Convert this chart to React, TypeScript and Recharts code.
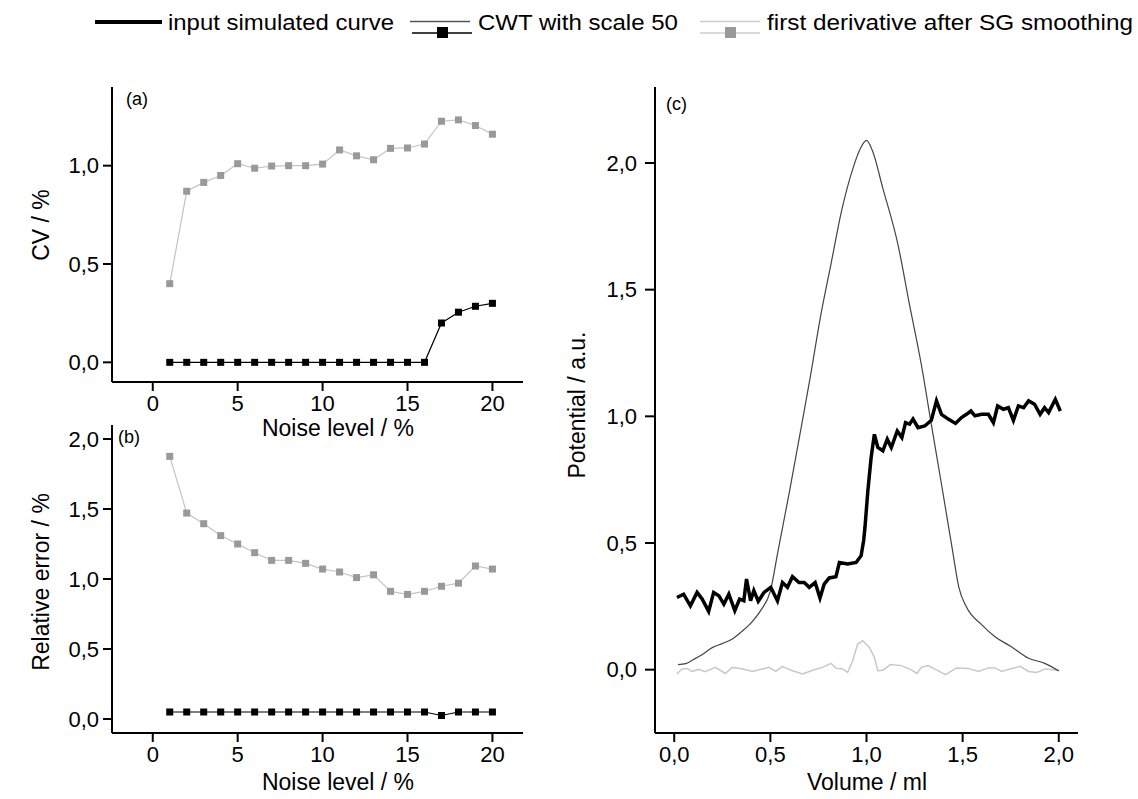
import { CartesianGrid, Line, LineChart, XAxis, YAxis } from "recharts";

// noise level study, panels (a) and (b)
const noiseLevels = [1, 2, 3, 4, 5, 6, 7, 8, 9, 10, 11, 12, 13, 14, 15, 16, 17, 18, 19, 20];
const cvCwt = [0, 0, 0, 0, 0, 0, 0, 0, 0, 0, 0, 0, 0, 0, 0, 0, 0.2, 0.255, 0.285, 0.3];
const cvSg = [0.4, 0.87, 0.915, 0.95, 1.01, 0.987, 0.998, 1.0, 1.0, 1.008, 1.08, 1.05, 1.03, 1.088, 1.09, 1.11, 1.226, 1.233, 1.204, 1.16];
const errCwt = [0.05, 0.05, 0.05, 0.05, 0.05, 0.05, 0.05, 0.05, 0.05, 0.05, 0.05, 0.05, 0.05, 0.05, 0.05, 0.05, 0.025, 0.05, 0.05, 0.05];
const errSg = [1.876, 1.471, 1.395, 1.31, 1.25, 1.188, 1.133, 1.133, 1.112, 1.071, 1.05, 1.01, 1.03, 0.912, 0.89, 0.912, 0.948, 0.97, 1.093, 1.071];

// panel (c): [volume ml, potential a.u.]
const inputCurve: [number, number][] = [
  [0.014, 0.285], [0.049, 0.298], [0.084, 0.252], [0.119, 0.305], [0.145, 0.279], [0.179, 0.23],
  [0.205, 0.305], [0.232, 0.292], [0.258, 0.259], [0.284, 0.298], [0.315, 0.233], [0.34, 0.279],
  [0.362, 0.272], [0.376, 0.358], [0.397, 0.272], [0.414, 0.312], [0.437, 0.27], [0.467, 0.305],
  [0.502, 0.325], [0.537, 0.272], [0.563, 0.344], [0.589, 0.325], [0.615, 0.367], [0.649, 0.344],
  [0.676, 0.344], [0.702, 0.325], [0.733, 0.344], [0.758, 0.283], [0.78, 0.338], [0.806, 0.362],
  [0.841, 0.367], [0.859, 0.423], [0.902, 0.417], [0.946, 0.423], [0.972, 0.45], [0.985, 0.509],
  [0.992, 0.561], [1.007, 0.706], [1.024, 0.837], [1.041, 0.929], [1.059, 0.877], [1.085, 0.864],
  [1.108, 0.91], [1.129, 0.877], [1.16, 0.942], [1.184, 0.916], [1.203, 0.975], [1.224, 0.969],
  [1.242, 0.989], [1.268, 0.955], [1.303, 0.962], [1.337, 0.984], [1.364, 1.061], [1.39, 1.008],
  [1.425, 0.989], [1.463, 0.972], [1.494, 0.995], [1.52, 1.008], [1.543, 1.021], [1.564, 1.002],
  [1.599, 1.008], [1.634, 1.008], [1.66, 0.975], [1.682, 1.041], [1.712, 1.028], [1.738, 1.034],
  [1.764, 0.984], [1.79, 1.041], [1.817, 1.034], [1.843, 1.061], [1.874, 1.048], [1.903, 1.008],
  [1.926, 1.034], [1.947, 1.015], [1.982, 1.067], [2.008, 1.021],
];
const cwtCurve: [number, number][] = [
  [0.02, 0.02], [0.06, 0.024], [0.1, 0.04], [0.14, 0.057], [0.2, 0.088], [0.25, 0.103], [0.3, 0.12],
  [0.35, 0.15], [0.4, 0.185], [0.45, 0.234], [0.5, 0.31], [0.54, 0.469], [0.6, 0.706], [0.66, 0.955],
  [0.71, 1.166], [0.76, 1.39], [0.815, 1.6], [0.87, 1.81], [0.93, 1.98], [0.97, 2.06], [1.0, 2.089],
  [1.03, 2.05], [1.085, 1.9], [1.163, 1.68], [1.224, 1.44], [1.285, 1.205], [1.337, 0.969],
  [1.39, 0.732], [1.445, 0.482], [1.48, 0.326], [1.52, 0.247], [1.6, 0.177], [1.67, 0.129],
  [1.75, 0.092], [1.84, 0.046], [1.93, 0.024], [2.0, -0.005],
];
const sgCurve: [number, number][] = [
  [0.014, -0.017], [0.04, 0.003], [0.066, 0.005], [0.092, -0.007], [0.127, 0.001], [0.161, -0.008],
  [0.214, 0.009], [0.266, -0.015], [0.301, 0.009], [0.353, 0.004], [0.406, -0.007], [0.458, 0.003],
  [0.493, 0.009], [0.528, -0.007], [0.563, 0.012], [0.615, -0.004], [0.667, -0.017], [0.72, -0.002],
  [0.772, 0.009], [0.815, 0.025], [0.841, 0.006], [0.876, 0.003], [0.902, -0.011], [0.928, 0.035],
  [0.954, 0.101], [0.98, 0.114], [1.015, 0.088], [1.041, 0.049], [1.059, -0.004], [1.085, -0.002],
  [1.125, 0.02], [1.181, 0.016], [1.233, -0.001], [1.262, -0.015], [1.285, 0.009], [1.32, 0.016],
  [1.364, -0.001], [1.411, -0.02], [1.468, 0.007], [1.529, 0.005], [1.582, -0.007], [1.634, 0.007],
  [1.668, 0.007], [1.703, -0.007], [1.747, 0.003], [1.799, 0.013], [1.843, -0.007], [1.886, -0.011],
  [1.93, 0.003], [1.982, -0.001], [2.0, 0.0],
];

const noiseTicks = [0, 5, 10, 15, 20];
const cvTicks = [0, 0.5, 1.0];
const errTicks = [0, 0.5, 1.0, 1.5, 2.0];
const volumeTicks = [0, 0.5, 1.0, 1.5, 2.0];
const potentialTicks = [0, 0.5, 1.0, 1.5, 2.0];

const FONT = "'Liberation Sans', Arial, sans-serif";
const tickStyle = { fontSize: 22, fill: "#000", fontFamily: FONT };
const axisStroke = { stroke: "#000", strokeWidth: 2 };
const comma = (v: number) => v.toFixed(1).replace(".", ",");

const toPoints = (pts: [number, number][]) => pts.map(([x, y]) => ({ x, y }));

const square = (size: number, fill: string) => (props: any) => (
  <rect
    key={`sq-${props.index}`}
    x={props.cx - size / 2}
    y={props.cy - size / 2}
    width={size}
    height={size}
    fill={fill}
  />
);

function NoisePanel({ cwt, sg, yTicks, yDomain, top, height, margin }: any) {
  const rows = noiseLevels.map((n, i) => ({ x: n, cwt: cwt[i], sg: sg[i] }));
  return (
    <div style={{ position: "absolute", left: 0, top }}>
      <LineChart width={540} height={height} data={rows} margin={margin}>
        <CartesianGrid stroke="none" />
        <XAxis
          dataKey="x"
          type="number"
          domain={[-2.4, 21.8]}
          ticks={noiseTicks}
          allowDataOverflow
          height={40}
          tick={tickStyle}
          tickSize={9}
          tickMargin={4}
          axisLine={axisStroke}
          tickLine={axisStroke}
        />
        <YAxis
          type="number"
          domain={yDomain}
          ticks={yTicks}
          allowDataOverflow
          width={60}
          tick={tickStyle}
          tickFormatter={comma}
          tickSize={9}
          tickMargin={4}
          axisLine={axisStroke}
          tickLine={axisStroke}
        />
        <Line dataKey="sg" stroke="#c4c4c4" strokeWidth={1.2} dot={square(7, "#999")} isAnimationActive={false} />
        <Line dataKey="cwt" stroke="#000" strokeWidth={1.2} dot={square(7, "#000")} isAnimationActive={false} />
      </LineChart>
    </div>
  );
}

function VolumePanel() {
  return (
    <div style={{ position: "absolute", left: 540, top: 0 }}>
      <LineChart width={598} height={799} margin={{ top: 87, right: 60, bottom: 26, left: 55 }}>
        <XAxis
          dataKey="x"
          type="number"
          domain={[-0.1, 2.1]}
          ticks={volumeTicks}
          tickFormatter={comma}
          allowDataOverflow
          height={40}
          tick={tickStyle}
          tickSize={9}
          tickMargin={4}
          axisLine={axisStroke}
          tickLine={axisStroke}
        />
        <YAxis
          type="number"
          domain={[-0.25, 2.3]}
          ticks={potentialTicks}
          tickFormatter={comma}
          allowDataOverflow
          width={60}
          tick={tickStyle}
          tickSize={10}
          tickMargin={8}
          axisLine={axisStroke}
          tickLine={axisStroke}
        />
        <Line data={toPoints(sgCurve)} dataKey="y" stroke="#c8c8c8" strokeWidth={1.5} dot={false} isAnimationActive={false} />
        <Line data={toPoints(cwtCurve)} dataKey="y" type="monotone" stroke="#444" strokeWidth={1.2} dot={false} isAnimationActive={false} />
        <Line data={toPoints(inputCurve)} dataKey="y" stroke="#000" strokeWidth={3.5} dot={false} isAnimationActive={false} />
      </LineChart>
    </div>
  );
}

function Overlay() {
  const t = { fontFamily: FONT, fill: "#000" };
  return (
    <svg width={1138} height={799} style={{ position: "absolute", left: 0, top: 0, pointerEvents: "none" }}>
      {/* legend */}
      <line x1={95} x2={162} y1={22} y2={22} stroke="#000" strokeWidth={4} />
      <text x={168} y={30} fontSize={22} textLength={226} lengthAdjust="spacingAndGlyphs" {...t}>input simulated curve</text>
      <line x1={410} x2={470} y1={21.5} y2={21.5} stroke="#555" strokeWidth={1.5} />
      <line x1={412} x2={472} y1={33} y2={33} stroke="#000" strokeWidth={1.5} />
      <rect x={437} y={27} width={11} height={11} fill="#000" />
      <text x={478} y={30} fontSize={22} textLength={200} lengthAdjust="spacingAndGlyphs" {...t}>CWT with scale 50</text>
      <line x1={700} x2={760} y1={21.5} y2={21.5} stroke="#ccc" strokeWidth={1.5} />
      <line x1={700} x2={760} y1={33} y2={33} stroke="#ccc" strokeWidth={1.5} />
      <rect x={725} y={27} width={11} height={11} fill="#999" />
      <text x={767} y={30} fontSize={22} textLength={366} lengthAdjust="spacingAndGlyphs" {...t}>first derivative after SG smoothing</text>

      {/* panel letters */}
      <text x={126} y={105} fontSize={18} {...t}>(a)</text>
      <text x={118} y={443} fontSize={18} {...t}>(b)</text>
      <text x={666} y={110} fontSize={18} {...t}>(c)</text>

      {/* axis titles */}
      <text x={41} y={225} fontSize={23} textAnchor="middle" dominantBaseline="central" transform="rotate(-90 41 225)" {...t}>CV / %</text>
      <text x={338} y={428} fontSize={23} textAnchor="middle" dominantBaseline="central" {...t}>Noise level / %</text>
      <text x={41} y={582} fontSize={23} textAnchor="middle" dominantBaseline="central" transform="rotate(-90 41 582)" {...t}>Relative error / %</text>
      <text x={338} y={782} fontSize={23} textAnchor="middle" dominantBaseline="central" {...t}>Noise level / %</text>
      <text x={577} y={405} fontSize={23} textAnchor="middle" dominantBaseline="central" transform="rotate(-90 577 405)" {...t}>Potential / a.u.</text>
      <text x={867} y={782} fontSize={23} textAnchor="middle" dominantBaseline="central" {...t}>Volume / ml</text>
    </svg>
  );
}

export default function App() {
  return (
    <div style={{ position: "fixed", left: 0, top: 0, width: 1138, height: 799, background: "#fff", overflow: "hidden" }}>
      <NoisePanel
        cwt={cvCwt}
        sg={cvSg}
        yTicks={cvTicks}
        yDomain={[-0.1, 1.4]}
        top={0}
        height={460}
        margin={{ top: 87, right: 17, bottom: 38, left: 52 }}
      />
      <NoisePanel
        cwt={errCwt}
        sg={errSg}
        yTicks={errTicks}
        yDomain={[-0.1, 2.1]}
        top={380}
        height={400}
        margin={{ top: 45, right: 17, bottom: 7, left: 52 }}
      />
      <VolumePanel />
      <Overlay />
    </div>
  );
}
